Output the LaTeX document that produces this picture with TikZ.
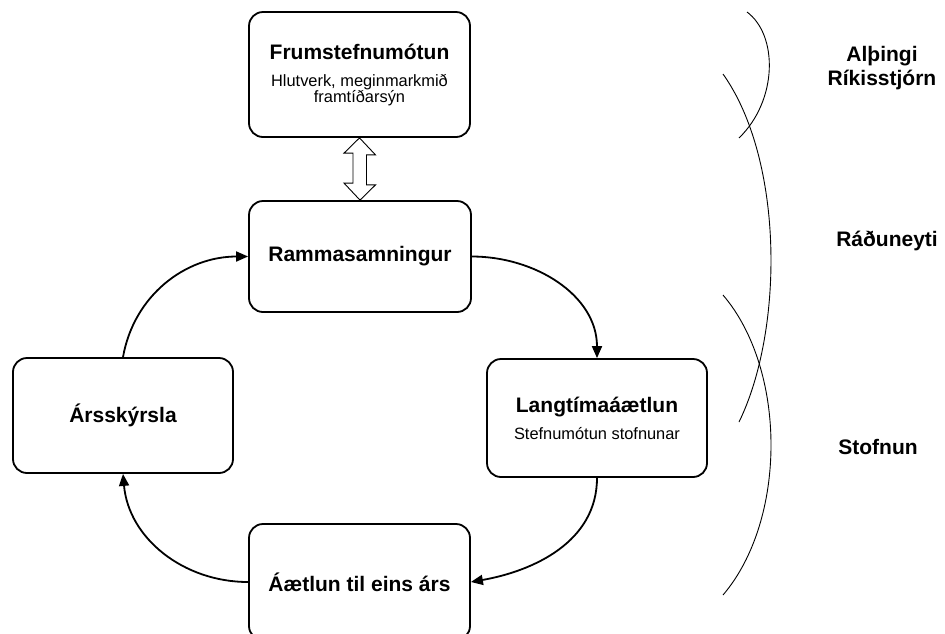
\documentclass[tikz,border=0pt]{standalone}
\usepackage{fontspec}
\setmainfont{Liberation Sans}
\usetikzlibrary{arrows.meta}
\newcommand{\boxtitle}{\fontsize{21}{24}\selectfont\bfseries}
\newcommand{\boxsub}{\fontsize{16.4}{17}\selectfont\mdseries}
\tikzset{
	x=1pt, y=1pt, % one unit is one pixel of the layout
	>={Triangle[length=12pt,width=10pt]}, % filled arrow heads
	stage/.style={draw, line width=1.8pt, rounded corners=14pt, align=center, font=\boxtitle}, % the boxes of the cycle
	flow/.style={->, line width=1.8pt}, % curved arrows between the boxes
	level/.style={align=center, font=\boxtitle}, % the labels on the right
	bracket/.style={line width=0.9pt}, % thin arcs on the right
}

\begin{document}
\begin{tikzpicture}
	\useasboundingbox (0,0) rectangle (945,-633);
	
	\node[stage, minimum width=221pt, minimum height=125pt] (frum) at (359.5,-74.5) {Frumstefnumótun\\[3pt]\boxsub Hlutverk, meginmarkmið\\[-8pt]\boxsub framtíðarsýn};
	\node[stage, minimum width=222pt, minimum height=111pt] (ramma) at (360,-256.5) {Rammasamningur};
	\node[stage, minimum width=220pt, minimum height=118pt] (lang) at (597,-418) {Langtímaáætlun\\[3pt]\boxsub Stefnumótun stofnunar};
	\node[stage, minimum width=221pt, minimum height=116pt] (aet) at (359.5,-582) {Áætlun til eins árs};
	\node[stage, minimum width=220pt, minimum height=115pt] (ars) at (123,-415.5) {Ársskýrsla};
	
	% hollow double arrow
	\draw[line width=0.9pt] (frum.south) -- ++(16,-17) -- ++(-9,0) -- ++(0,-30) -- ++(9,0) -- (ramma.north) -- ++(-16,17) -- ++(9,0) -- ++(0,30) -- ++(-9,0) -- cycle;
	
	\draw[flow] (ramma.east) to[out=0, in=90] (lang.north);
	\draw[flow] (lang.south) to[out=-90, in=10] (aet.east);
	\draw[flow] (aet.west) to[out=180, in=-85] (ars.south);
	\draw[flow] (ars.north) to[out=80, in=180] (ramma.west);
	
	% levels on the right
	\draw[bracket] (747,-12) .. controls (778,-35) and (778,-100) .. (739,-138);
	\draw[bracket] (723,-74) .. controls (784,-160) and (784,-330) .. (739,-422);
	\draw[bracket] (723,-295) .. controls (787,-370) and (787,-520) .. (723,-595);
	
	\node[level] (alth) at (882,-68) {Alþingi\\Ríkisstjórn};
	\node[level] (radu) at (887,-241) {Ráðuneyti};
	\node[level] (stofn) at (878,-447) {Stofnun};
\end{tikzpicture}
\end{document}
